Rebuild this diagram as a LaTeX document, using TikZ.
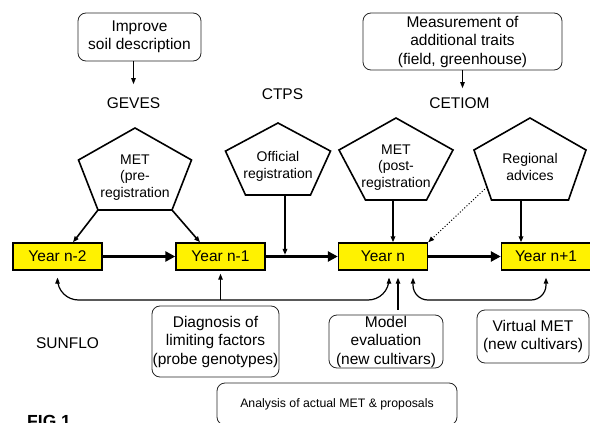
\documentclass[tikz,border=0pt]{standalone}
\usepackage{fontspec}
\setmainfont{Liberation Sans}
\usetikzlibrary{%
  calc,
  arrows.meta
}
% pentagone : nom, x centre, y sommet, demi-largeur, demi-base, hauteur, texte
\newcommand{\pentagone}[7]{%
  \pgfmathsetmacro{\pcx}{#2}
  \pgfmathsetmacro{\pty}{#3}
  \pgfmathsetmacro{\pdl}{#4}
  \pgfmathsetmacro{\pdb}{#5}
  \pgfmathsetmacro{\phh}{#6}
  \pgfmathsetmacro{\pcote}{\pty+0.39*\phh}
  \pgfmathsetmacro{\pbas}{\pty+\phh}

  \coordinate (#1-h)  at (\pcx, \pty) ;
  \coordinate (#1-g)  at (\pcx-\pdl, \pcote) ;
  \coordinate (#1-d)  at (\pcx+\pdl, \pcote) ;
  \coordinate (#1-bg) at (\pcx-\pdb, \pbas) ;
  \coordinate (#1-bd) at (\pcx+\pdb, \pbas) ;
  \coordinate (#1-b)  at (\pcx, \pbas) ;
  \draw [penta]
        (#1-h) -- (#1-d) -- (#1-bd) -- (#1-bg) -- (#1-g) -- cycle ;
  \node [pentexte] (#1) at (\pcx, \pty+0.6*\phh) {#7} ;
}

\tikzset{
  annee/.style={draw, line width=1.4pt, fill=yellow,
    minimum width=89pt, minimum height=27pt, inner sep=0pt,
    font=\fontsize{15.5}{18}\selectfont},
  boite/.style={draw=black!85, line width=0.8pt, rounded corners=8pt,
    align=center, inner sep=0pt,
    font=\fontsize{15.5}{18.5}\selectfont},
  penta/.style={line width=1.6pt, line join=miter},
  pentexte/.style={align=center, font=\fontsize{14}{16.5}\selectfont},
  etiquette/.style={anchor=base, font=\fontsize{15.5}{18}\selectfont},
  epaisse/.style={line width=3.2pt, -{Triangle[length=10pt, width=10pt]}},
  moyenne/.style={line width=1.6pt, ->},
  fine/.style={line width=1.2pt, ->},
  tresfine/.style={line width=0.7pt, ->},
}

\begin{document}
\begin{tikzpicture}[
  x=1pt, y=-1pt,
  >={Triangle[length=6pt, width=4.5pt]},
  thin,
]
  \useasboundingbox ( 0, 0) rectangle (590, 423) ;

  % boites du haut
  \node [boite, minimum width=123pt, minimum height=48pt]
        (amelio) at (139.5, 37.0) {Improve\\soil description} ;
  \node [boite, minimum width=199pt, minimum height=57pt]
        (mesure) at (462.5, 41.5) {Measurement of\\additional traits\\(field, greenhouse)} ;

  % organismes
  \node [etiquette] (geves)  at (133.5, 108.5) {GEVES} ;
  \node [etiquette] (ctps)   at (282.5,  99.5) {CTPS} ;
  \node [etiquette] (cetiom) at (459.5, 108.5) {CETIOM} ;
  \node [etiquette] (sunflo) at ( 67.5, 348.0) {SUNFLO} ;

  \draw [tresfine, shorten >=10pt] (amelio.south -| geves) -- (geves.north) ;
  \draw [tresfine, shorten >=6pt]  (mesure.south) -- (mesure.south |- cetiom.north) ;

  % pentagones
  \pentagone{pre}{135}{128}{56.5}{37}{82}{MET\\(pre-\\registration}
  \pentagone{off}{278}{123}{52.5}{32.5}{72}{Official\\registration}
  \pentagone{post}{396}{118}{57}{30.5}{82}{MET\\(post-\\registration}
  \pentagone{reg}{530}{118}{56}{38.5}{82}{Regional\\advices}

  % annees
  \foreach \nom/\x/\txt in {an2/57.5/Year n-2, an1/220.5/Year n-1,
                            an0/383/Year n, anp1/546/Year n+1} {
    \node [annee] (\nom) at (\x, 256.5) {\txt} ;
  }
  \foreach \a/\b in {an2/an1, an1/an0, an0/anp1} {
    \draw [epaisse] (\a.east) -- (\b.west) ;
  }

  % fleches des pentagones
  \draw [moyenne] (pre-bg) -- ([xshift=15.5pt]an2.north) ;
  \draw [moyenne] (pre-bd) -- ([xshift=-20.5pt]an1.north) ;
  \coordinate (off-p)  at ([xshift=7pt]off-b) ;
  \draw [moyenne, shorten >=1.6pt] (off-p) -- (off-p |- an1) ;
  \coordinate (post-p) at ([xshift=-3pt]post-b) ;
  \draw [moyenne] (post-p) -- (post-p |- an0.north) ;
  \coordinate (reg-p)  at ([xshift=-9pt]reg-b) ;
  \draw [moyenne] (reg-p) -- (reg-p |- anp1.north) ;
  \draw [line width=1pt, dotted, ->]
        ($(reg-g)!0.74!(reg-bg)$) -- (an0.north east) ;

  % boites du bas
  \node [boite, minimum width=127pt, minimum height=71pt]
        (diag) at (215.5, 341.5) {Diagnosis of\\limiting factors\\(probe genotypes)} ;
  \node [boite, minimum width=114pt, minimum height=53pt]
        (evalmod) at (386.0, 341.5) {Model\\evaluation\\(new cultivars)} ;
  \node [boite, minimum width=112pt, minimum height=53pt]
        (metvirt) at (533.0, 336.5) {Virtual MET\\(new cultivars)} ;
  \node [boite, minimum width=240pt, minimum height=42pt,
         font=\fontsize{12.3}{14}\selectfont]
        (analyse) at (337.0, 404.0) {Analysis of actual MET \& proposals} ;

  % retours
  \coordinate (retour) at (0, 300) ;
  \coordinate (r-an0)  at ([xshift=6pt, yshift=-7pt]an0.south) ;
  \coordinate (r-an2)  at ([yshift=-7pt]an2.south) ;
  \coordinate (r-an0b) at ([xshift=30pt, yshift=-7pt]an0.south) ;
  \coordinate (r-anp1) at ([yshift=-7pt]anp1.south) ;
  \draw [fine, <->, rounded corners=21pt]
        (r-an0) |- (r-an2 |- retour) -- (r-an2) ;
  \draw [fine] (an1 |- retour) -- ([yshift=-3pt]an1.south) ;
  \draw [fine, <->, rounded corners=15pt]
        (r-an0b) |- (r-anp1 |- retour) -- (r-anp1) ;
  \draw [fine] ([xshift=12pt, yshift=5pt]evalmod.north)
        -- ([xshift=15pt, yshift=-7pt]an0.south) ;

  \node [anchor=base west, inner sep=0pt,
         font=\bfseries\fontsize{17.5}{20}\selectfont]
        (fig) at (27, 427.5) {FIG 1} ;
\end{tikzpicture}
\end{document}
